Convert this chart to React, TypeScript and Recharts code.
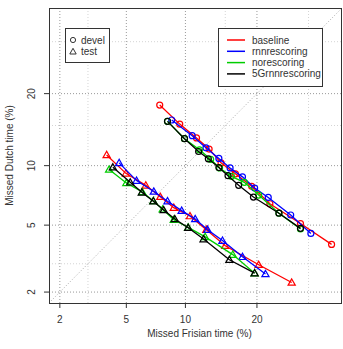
import React from 'react';
import { ScatterChart, Scatter, XAxis, YAxis, ReferenceLine } from 'recharts';

// miss rates in percent: [Frisian, Dutch]
const baselineDevel = [[7.5, 18.1], [9.4, 15.2], [11.25, 13.3], [12.8, 11.9], [14.4, 10.3], [16.5, 9.15], [19.1, 7.96], [22.3, 6.5], [28.3, 5.1], [35.1, 3.9]];
const rnnDevel = [[8.6, 15.8], [10.75, 13.6], [12.4, 12.05], [14.1, 10.8], [15.7, 9.76], [17.6, 8.85], [19.6, 7.8], [22, 7.0], [26.3, 5.67], [30.5, 4.5]];
const noDevel = [[8.2, 15.6], [9.9, 13.2], [11.6, 11.8], [13, 10.7], [14.2, 9.76], [15.9, 8.9], [17.9, 8.33], [20.3, 7.2], [24, 5.8], [28.3, 4.76]];
const fiveGDevel = [[8.2, 15.6], [9.9, 13.2], [11.5, 11.6], [12.7, 10.75], [14.1, 9.8], [15.4, 8.97], [17, 8.05], [19.4, 7.03], [24, 5.8], [28.3, 4.8]];

const baselineTest = [[3.87, 11.2], [4.97, 9.2], [6.36, 8.05], [7.55, 7.06], [8.8, 6.2], [10.5, 5.6], [12.45, 4.72], [15, 3.83], [20.3, 2.96], [26.5, 2.3]];
const rnnTest = [[4.56, 10.3], [5.68, 8.49], [7.0, 7.5], [8.2, 6.7], [9.6, 5.98], [11.1, 5.4], [12.6, 4.72], [14.6, 4.1], [17.6, 3.3], [21.5, 2.6]];
const noTest = [[4.0, 9.6], [5.0, 8.27], [6.1, 7.46], [6.96, 6.72], [7.76, 6.08], [8.8, 5.35], [10.3, 4.86], [12.3, 4.3], [16.1, 3.4], [19.6, 2.63]];
const fiveGTest = [[4.2, 9.83], [5.25, 8.33], [6.06, 7.43], [6.96, 6.7], [7.85, 6.03], [8.9, 5.4], [10.3, 4.84], [12.1, 4.18], [15.6, 3.17], [19.6, 2.63]];

const systems = ['baseline', 'rnnrescoring', 'norescoring', '5Grnnrescoring'];
const colors = ['#ff0000', '#0000ff', '#00cd00', '#000000'];
const develSets = [baselineDevel, rnnDevel, noDevel, fiveGDevel];
const testSets = [baselineTest, rnnTest, noTest, fiveGTest];

const tickLabels = [2, 5, 10, 20];
const minorGrid = [3, 15, 30];
const axisLimits = [2, 35];

// inverse normal cdf (Acklam) for the DET scale
const qnorm = (p: number): number => {
  const a = [-39.69683028665376, 220.9460984245205, -275.9285104469687, 138.357751867269, -30.66479806614716, 2.506628277459239];
  const b = [-54.47609879822406, 161.5858368580409, -155.6989798598866, 66.80131188771972, -13.28068155288572];
  const c = [-0.007784894002430293, -0.3223964580411365, -2.400758277161838, -2.549732539343734, 4.374664141464968, 2.938163982698783];
  const d = [0.007784695709041462, 0.3224671290700398, 2.445134137142996, 3.754408661907416];
  if (p < 0.02425) {
    const q = Math.sqrt(-2 * Math.log(p));
    return (((((c[0] * q + c[1]) * q + c[2]) * q + c[3]) * q + c[4]) * q + c[5]) / ((((d[0] * q + d[1]) * q + d[2]) * q + d[3]) * q + 1);
  }
  if (p > 1 - 0.02425) return -qnorm(1 - p);
  const q = p - 0.5;
  const r = q * q;
  return (((((a[0] * r + a[1]) * r + a[2]) * r + a[3]) * r + a[4]) * r + a[5]) * q / (((((b[0] * r + b[1]) * r + b[2]) * r + b[3]) * r + b[4]) * r + 1);
};

const z = (pct: number) => qnorm(pct / 100);
const lo0 = z(axisLimits[0]);
const hi0 = z(axisLimits[1]);
const pad = (hi0 - lo0) * 0.04;
const domain: [number, number] = [lo0 - pad, hi0 + pad];
const ticks = tickLabels.map(z);
const fmt = (v: number) => {
  const i = ticks.findIndex((t) => Math.abs(t - v) < 1e-6);
  return i >= 0 ? String(tickLabels[i]) : '';
};
const toPts = (arr: number[][]) => arr.map(([x, y]) => ({ x: z(x), y: z(y) }));

const FONT = '"Liberation Sans", Arial, sans-serif';
const INK = '#333';

const Circle = (color: string) => (props: any) => (
  <circle cx={props.cx} cy={props.cy} r={3} fill="none" stroke={color} strokeWidth={1.2} />
);
const Tri = (color: string) => (props: any) => {
  const { cx, cy } = props;
  const s = 3.6;
  return (
    <polygon
      points={`${cx},${cy - s} ${cx - s},${cy + s * 0.75} ${cx + s},${cy + s * 0.75}`}
      fill="none"
      stroke={color}
      strokeWidth={1.2}
    />
  );
};

const XTick = ({ x, y, payload }: any) => (
  <text x={x} y={y + 13} textAnchor="middle" fontSize={10} fill={INK} fontFamily={FONT}>
    {fmt(payload.value)}
  </text>
);
const YTick = ({ x, y, payload }: any) => (
  <text x={x - 10} y={y} transform={`rotate(-90 ${x - 10} ${y})`} textAnchor="middle" dominantBaseline="central" fontSize={10} fill={INK} fontFamily={FONT}>
    {fmt(payload.value)}
  </text>
);

export default function App() {
  const L = 49, R = 342, T = 8, B = 303;
  return (
    <div style={{ position: 'absolute', left: 0, top: 0, width: 343, height: 349, background: '#fff', fontFamily: FONT }}>
      <ScatterChart width={343} height={349} margin={{ top: T, right: 343 - R, bottom: 0, left: 0 }}>
        <XAxis type="number" dataKey="x" domain={domain} ticks={ticks} allowDataOverflow axisLine={false} tickSize={5} tickLine={{ stroke: INK }} tick={<XTick />} height={349 - B} interval={0} />
        <YAxis type="number" dataKey="y" domain={domain} ticks={ticks} allowDataOverflow axisLine={false} tickSize={5} tickLine={{ stroke: INK }} tick={<YTick />} width={L} interval={0} />
        {minorGrid.map((v) => (
          <ReferenceLine key={'mx' + v} x={z(v)} stroke="#d4d4d4" strokeDasharray="1 2" />
        ))}
        {minorGrid.map((v) => (
          <ReferenceLine key={'my' + v} y={z(v)} stroke="#d4d4d4" strokeDasharray="1 2" />
        ))}
        {tickLabels.map((v) => (
          <ReferenceLine key={'gx' + v} x={z(v)} stroke="#999" strokeDasharray="1 2" />
        ))}
        {tickLabels.map((v) => (
          <ReferenceLine key={'gy' + v} y={z(v)} stroke="#999" strokeDasharray="1 2" />
        ))}
        <ReferenceLine segment={[{ x: domain[0], y: domain[0] }, { x: domain[1], y: domain[1] }]} stroke="#aaa" strokeDasharray="1 2" />
        {develSets.map((set, i) => (
          <Scatter key={'d' + i} data={toPts(set)} line={{ stroke: colors[i], strokeWidth: 1.3 }} lineType="joint" shape={Circle(colors[i])} isAnimationActive={false} />
        ))}
        {testSets.map((set, i) => (
          <Scatter key={'t' + i} data={toPts(set)} line={{ stroke: colors[i], strokeWidth: 1.3 }} lineType="joint" shape={Tri(colors[i])} isAnimationActive={false} />
        ))}
      </ScatterChart>
      <svg width={343} height={349} style={{ position: 'absolute', left: 0, top: 0, pointerEvents: 'none' }} fontFamily={FONT}>
        <rect x={L + 0.5} y={T + 0.5} width={R - L - 1} height={B - T} fill="none" stroke={INK} strokeWidth={1} />
        <text x={(L + R) / 2 + 4} y={337} textAnchor="middle" fontSize={10} fill={INK}>Missed Frisian time (%)</text>
        <text x={9} y={(T + B) / 2} transform={`rotate(-90 9 ${(T + B) / 2})`} textAnchor="middle" dominantBaseline="central" fontSize={10} fill={INK}>Missed Dutch time (%)</text>

        <rect x={65.5} y={28.5} width={44} height={34} fill="#fff" stroke={INK} />
        <circle cx={73} cy={40} r={2.6} fill="none" stroke={INK} strokeWidth={1} />
        <polygon points="73,48.3 69.8,54 76.2,54" fill="none" stroke={INK} strokeWidth={1} />
        <text x={81} y={43.5} fontSize={10} fill={INK}>devel</text>
        <text x={81} y={55} fontSize={10} fill={INK}>test</text>

        <rect x={218.5} y={28.5} width={104} height={58} fill="#fff" stroke={INK} />
        {systems.map((s, i) => (
          <g key={s}>
            <line x1={227} x2={245} y1={40 + i * 11.3} y2={40 + i * 11.3} stroke={colors[i]} strokeWidth={1.5} />
            <text x={252} y={43.5 + i * 11.3} fontSize={10} fill={INK}>{s}</text>
          </g>
        ))}
      </svg>
    </div>
  );
}
